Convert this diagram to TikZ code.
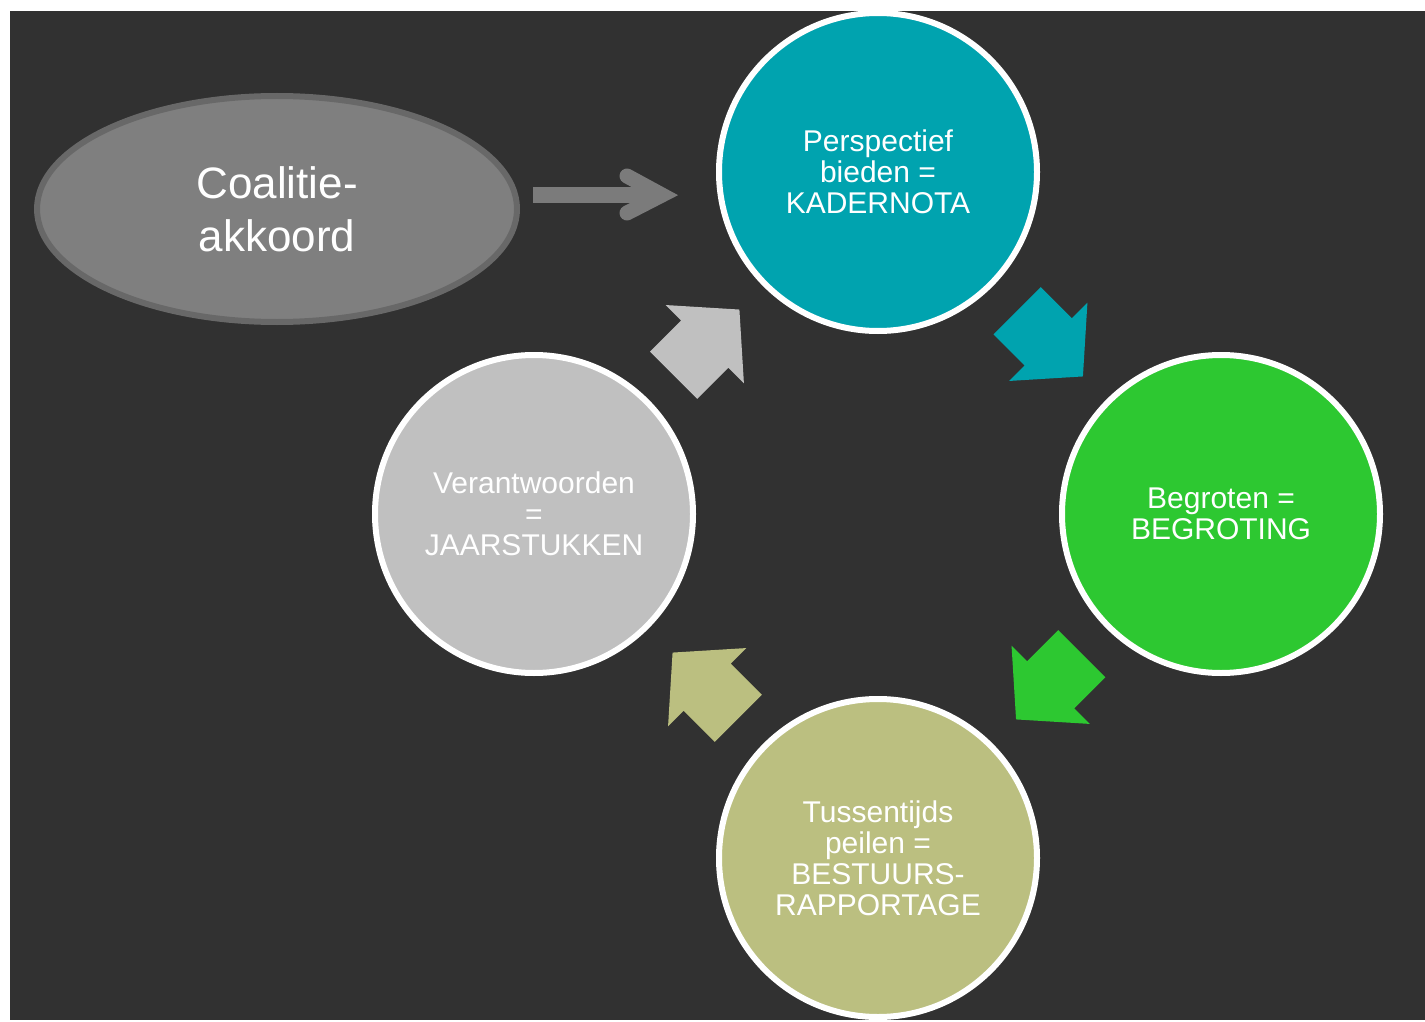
\documentclass[tikz,border=0pt]{standalone}
\usepackage{fontspec}
\setmainfont{Liberation Sans}
\usetikzlibrary{shapes.geometric, shapes.arrows, calc}

\definecolor{bgdark}{RGB}{49,49,49}
\definecolor{coalfill}{RGB}{127,127,127}
\definecolor{coalline}{RGB}{104,104,104}
\definecolor{coalarrow}{RGB}{123,123,123}
\definecolor{kaderc}{RGB}{0,163,175}
\definecolor{begrc}{RGB}{45,200,49}
\definecolor{bestuurc}{RGB}{187,191,128}
\definecolor{jaarc}{RGB}{192,192,192}

\begin{document}
\begin{tikzpicture}[x=0.5pt, y=-0.5pt,
  phase/.style={circle, draw=white, line width=3pt, minimum size=159pt, inner sep=0pt,
    text=white, align=center, font=\fontsize{15pt}{15.5pt}\selectfont},
  turn/.style={single arrow, draw=none, minimum height=46.5pt, inner xsep=0pt, inner ysep=16.5pt,
    single arrow head extend=11pt, single arrow tip angle=97}]
%background
\useasboundingbox (0,0) rectangle (1425,1022);
\fill[white] (0,0) rectangle (1425,1022);
\fill[bgdark] (10,11) rectangle (1425,1020);
%start
\node[ellipse, fill=coalfill, draw=coalline, line width=3pt, minimum width=240pt, minimum height=113pt,
  inner sep=0pt, text=white, align=center, font=\fontsize{22pt}{26.5pt}\selectfont] (coal) at (277,209) {Coalitie-\\akkoord};
%cycle
\node[phase, fill=kaderc] (kader) at (878,172) {Perspectief\\bieden =\\KADERNOTA};
\node[phase, fill=begrc] (begr) at (1221,514) {Begroten =\\BEGROTING};
\node[phase, fill=bestuurc] (bestuur) at (878,858) {Tussentijds\\peilen =\\BESTUURS-\\RAPPORTAGE};
\node[phase, fill=jaarc] (jaar) at (534,514) {Verantwoorden\\=\\JAARSTUKKEN};
%arrows between
\node[turn, fill=kaderc, rotate=-45] (a1) at ($(kader)!0.5!(begr)!7pt!(kader)$) {};
\node[turn, fill=begrc, rotate=-135] (a2) at ($(begr)!0.5!(bestuur)!7pt!(begr)$) {};
\node[turn, fill=bestuurc, rotate=135] (a3) at ($(bestuur)!0.5!(jaar)!7pt!(bestuur)$) {};
\node[turn, fill=jaarc, rotate=45] (a4) at ($(jaar)!0.5!(kader)!7pt!(jaar)$) {};
%arrow into the cycle
\coordinate (entry) at ([shift={(-39,23)}]kader.west);
\draw[line width=7.5pt, color=coalarrow] ([shift={(13,-14)}]coal.east) -- ([shift={(-22,0)}]entry);
\draw[line width=7.5pt, color=coalarrow, line cap=round, line join=miter]
  ([shift={(-50,-19)}]entry) -- ([shift={(-15,0)}]entry) -- ([shift={(-50,18)}]entry);
\end{tikzpicture}
\end{document}
